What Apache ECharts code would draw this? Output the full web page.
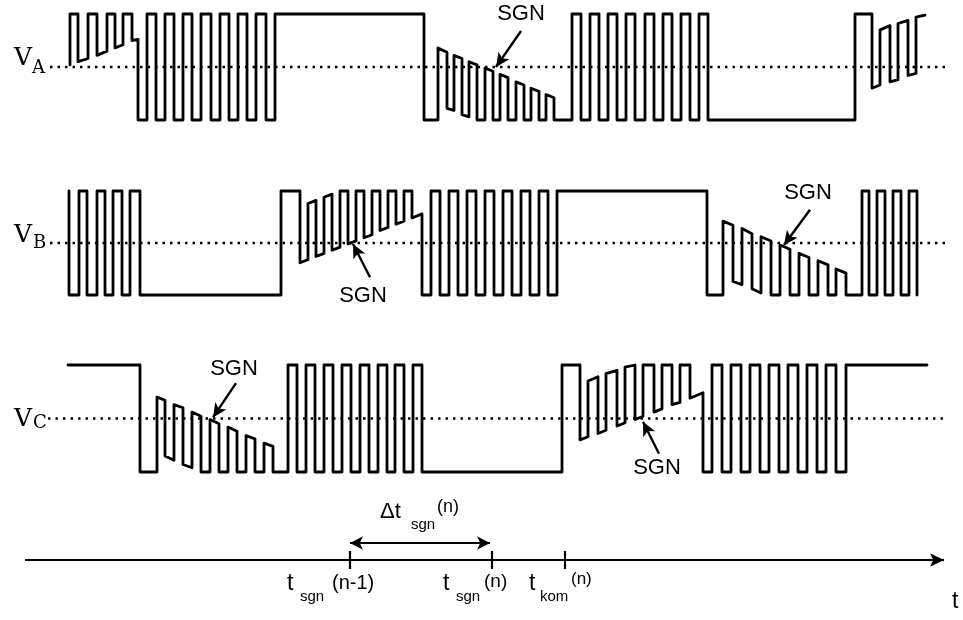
<!DOCTYPE html>
<html>
<head>
<meta charset="utf-8">
<script src="https://cdn.jsdelivr.net/npm/echarts@6/dist/echarts.min.js"></script>
<style>
html,body{margin:0;padding:0;background:#fff;}
#c{width:963px;height:620px;}
</style>
</head>
<body>
<div id="c"></div>
<script>
// Phase voltages, [time, voltage in % of supply]
const vaPoints = [
 [70,52],[70,100],[78,100],[78,55],[88,58],[88,100],[97,100],[97,61],[107,65],[107,100],[115,100],[115,68],[123,71],[123,100],[132,100],[132,75],[138,76],[138,0],
 [147,0],[147,100],[156,100],[156,0],[165,0],[165,100],[174,100],[174,0],[183,0],[183,100],[192,100],[192,0],[201,0],[201,100],[211,100],[211,0],[220,0],[220,100],[229,100],[229,0],[238,0],[238,100],[247,100],[247,0],[256,0],[256,100],[266,100],[266,0],[275,0],[275,100],
 [424,100],[424,0],[438,0],
 [438,68],[447,64],[447,11],[454,9],[454,61],[462,58],[462,5],[469,3],[469,55],[477,52],[477,0],[485,0],[485,49],[493,46],[493,0],[500,0],[500,43],[508,40],[508,0],[516,0],[516,36],[524,33],[524,0],[531,0],[531,30],[539,27],[539,0],[546,0],[546,24],[554,21],[554,0],[572,0],
 [572,100],[581,100],[581,0],[590,0],[590,100],[599,100],[599,0],[608,0],[608,100],[617,100],[617,0],[626,0],[626,100],[635,100],[635,0],[645,0],[645,100],[654,100],[654,0],[663,0],[663,100],[672,100],[672,0],[681,0],[681,100],[690,100],[690,0],[699,0],[699,100],[708,100],[708,0],
 [855,0],[855,100],[872,100],
 [872,30],[880,33],[880,85],[890,89],[890,36],[898,38],[898,91],[908,94],[908,42],[916,44],[916,97],[925,99]
];
const vbPoints = [
 [69,100],[69,0],[79,0],[79,100],[87,100],[87,0],[97,0],[97,100],[105,100],[105,0],[113,0],[113,100],[122,100],[122,0],[130,0],[130,100],[140,100],[140,0],
 [281,0],[281,100],[300,100],
 [300,31],[308,34],[308,88],[316,91],[316,37],[324,40],[324,94],[332,97],[332,43],[340,46],[340,100],[348,100],[348,49],[356,52],[356,100],[364,100],[364,55],[372,58],[372,100],[380,100],[380,62],[388,65],[388,100],[396,100],[396,68],[404,71],[404,100],[412,100],[412,74],[422,78],[422,0],
 [431,0],[431,100],[440,100],[440,0],[449,0],[449,100],[458,100],[458,0],[467,0],[467,100],[476,100],[476,0],[485,0],[485,100],[494,100],[494,0],[503,0],[503,100],[512,100],[512,0],[521,0],[521,100],[530,100],[530,0],[539,0],[539,100],[548,100],[548,0],[557,0],[557,100],
 [707,100],[707,0],[723,0],
 [723,71],[733,67],[733,13],[742,10],[742,64],[752,59],[752,6],[761,2],[761,56],[771,52],[771,0],[780,0],[780,48],[790,44],[790,0],[799,0],[799,40],[809,36],[809,0],[818,0],[818,33],[828,29],[828,0],[836,0],[836,25],[846,21],[846,0],[862,0],
 [862,100],[869,100],[869,0],[877,0],[877,100],[885,100],[885,0],[893,0],[893,100],[901,100],[901,0],[909,0],[909,100],[917,100],[917,0]
];
const vcPoints = [
 [68,100],[140,100],[140,0],[157,0],
 [157,70],[165,67],[165,15],[174,11],[174,63],[183,60],[183,7],[192,4],[192,56],[201,52],[201,0],[210,0],[210,49],[219,45],[219,0],[228,0],[228,42],[237,38],[237,0],[246,0],[246,34],[255,31],[255,0],[264,0],[264,27],[273,24],[273,0],[288,0],
 [288,100],[297,100],[297,0],[306,0],[306,100],[315,100],[315,0],[324,0],[324,100],[333,100],[333,0],[342,0],[342,100],[351,100],[351,0],[360,0],[360,100],[369,100],[369,0],[378,0],[378,100],[387,100],[387,0],[395,0],[395,100],[404,100],[404,0],[413,0],[413,100],[422,100],[422,0],
 [562,0],[562,100],[580,100],
 [580,30],[588,33],[588,85],[598,89],[598,36],[606,39],[606,92],[617,95],[617,43],[625,46],[625,98],[635,100],[635,49],[643,52],[643,100],[654,100],[654,56],[662,59],[662,100],[672,100],[672,63],[680,65],[680,100],[690,100],[690,69],[703,74],[703,0],
 [712,0],[712,100],[722,100],[722,0],[731,0],[731,100],[741,100],[741,0],[750,0],[750,100],[760,100],[760,0],[769,0],[769,100],[779,100],[779,0],[788,0],[788,100],[798,100],[798,0],[807,0],[807,100],[817,100],[817,0],[826,0],[826,100],[836,100],[836,0],[846,0],[846,100],[927,100]
];
// dotted reference (half supply) lines
const midA = [[50,50],[947,50]];
const midB = [[50,50],[945,50]];
const midC = [[48,50],[945,50]];
// SGN arrows: [tail, tip]
const sgnA = [[[521,84],[496,50]]];
const sgnB = [[[810,82],[784,48]],[[370,17],[353,49]]];
const sgnC = [[[236,83],[213,51]],[[659,17],[643,47]]];
// time axis
const timeAxis = [[25,0],[944,0]];
const tickTimes = [350, 492, 565];
const deltaSpan = [350, 490];

const chart = echarts.init(document.getElementById('c'), null, {renderer:'canvas'});
const black = '#000';
const grids = [
  {left:0, right:0, top:14, height:106},
  {left:0, right:0, top:191, height:104},
  {left:0, right:0, top:365, height:107},
  {left:0, right:0, top:540, height:40}
];
const xAxes = grids.map((g,i)=>({type:'value', gridIndex:i, min:0, max:963, show:false}));
const yAxes = grids.map((g,i)=>({type:'value', gridIndex:i, min: i<3?0:-1, max: i<3?100:1, show:false}));

function arrowLines(list){
  return {
    silent:true, animation:false,
    symbol:['none','arrow'], symbolSize:[10,14],
    lineStyle:{color:black, width:2.4, type:'solid'},
    label:{show:false},
    emphasis:{disabled:true},
    data: list.map(p=>[{coord:p[0]},{coord:p[1]}])
  };
}
function trace(idx, pts, arrows){
  return {type:'line', xAxisIndex:idx, yAxisIndex:idx, data:pts, symbol:'none', showSymbol:false,
    clip:false, silent:true, animation:false,
    lineStyle:{color:black, width:2.8, join:'round', cap:'round'},
    markLine: arrows ? arrowLines(arrows) : undefined};
}
function mid(idx, pts){
  return {type:'line', xAxisIndex:idx, yAxisIndex:idx, data:pts, symbol:'none', clip:false, silent:true, animation:false,
    z:1, lineStyle:{color:black, width:2.5, type:[2.5,5], cap:'butt'}};
}

const series = [
  mid(0, midA), mid(1, midB), mid(2, midC),
  trace(0, vaPoints, sgnA), trace(1, vbPoints, sgnB), trace(2, vcPoints, sgnC),
  {type:'line', xAxisIndex:3, yAxisIndex:3, data:timeAxis, symbol:'none', clip:false, silent:true, animation:false,
   lineStyle:{color:black, width:2.2},
   markLine:{silent:true, animation:false, label:{show:false}, emphasis:{disabled:true},
     lineStyle:{color:black, width:2.2, type:'solid'}, symbol:['none','none'],
     data:[
       [{coord:[timeAxis[1][0]-14,0], symbol:'none'},{coord:[timeAxis[1][0],0], symbol:'arrow', symbolSize:[10,14]}],
       [{coord:[deltaSpan[0],0.85], symbol:'arrow', symbolSize:[10,13]},{coord:[deltaSpan[1],0.85], symbol:'arrow', symbolSize:[10,13]}]
     ].concat(tickTimes.map(t=>[{coord:[t,-0.45]},{coord:[t,0.45]}]))
   }}
];

const sans = 'Liberation Sans, Arial, sans-serif';
const serif = 'DejaVu Serif, Liberation Serif, serif';
function txt(x,y,s,size,font,align){
  return {type:'text', x:x, y:y, silent:true, style:{text:s, fill:black, font: size+'px '+font, textAlign:align||'left', textVerticalAlign:'middle'}};
}
const graphic = [
  txt(14,58,'V',25,serif), txt(32,68,'A',18,serif),
  txt(14,235,'V',25,serif), txt(33,243,'B',18,serif),
  txt(14,419,'V',25,serif), txt(33,423,'C',18,serif),
  txt(521,14,'SGN',22,sans,'center'),
  txt(808,193,'SGN',22,sans,'center'),
  txt(363,296,'SGN',22,sans,'center'),
  txt(234,369,'SGN',22,sans,'center'),
  txt(657,468,'SGN',22,sans,'center'),
  txt(380,512,'Δt',22,sans), txt(411,525,'sgn',15,sans), txt(437,507,'(n)',18,sans),
  txt(287,584,'t',23,sans), txt(300,597,'sgn',15,sans), txt(332,583,'(n-1)',20,sans),
  txt(443,584,'t',23,sans), txt(456,597,'sgn',15,sans), txt(484,582,'(n)',19,sans),
  txt(529,584,'t',23,sans), txt(540,597,'kom',15,sans), txt(571,579,'(n)',17,sans),
  txt(952,602,'t',23,sans)
];

chart.setOption({
  backgroundColor:'#fff',
  animation:false,
  grid: grids, xAxis: xAxes, yAxis: yAxes,
  series: series,
  graphic: graphic
});
</script>
</body>
</html>
